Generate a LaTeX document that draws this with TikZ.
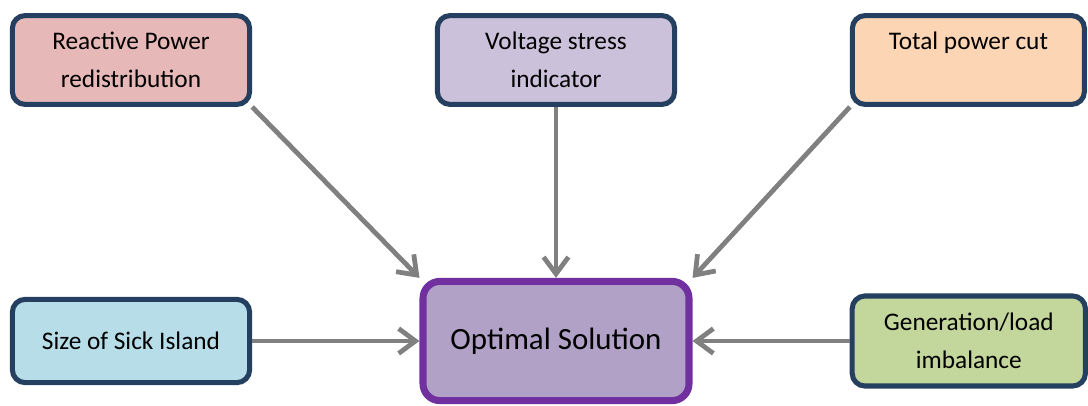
\documentclass[tikz,border=0pt]{standalone}
\usepackage{fontspec}
\setmainfont{Carlito}
\usepackage{xcolor}
\definecolor{critNavy}{HTML}{243F60}
\definecolor{critGray}{HTML}{808080}
\definecolor{critRose}{HTML}{E6B9B8}
\definecolor{critLilac}{HTML}{CCC1DA}
\definecolor{critPeach}{HTML}{FCD5B5}
\definecolor{critSky}{HTML}{B7DEE8}
\definecolor{critOlive}{HTML}{C3D69B}
\definecolor{optPurple}{HTML}{7030A0}
\definecolor{optFill}{HTML}{B2A1C7}
\usetikzlibrary{arrows.meta,positioning,shadows}

\begin{document}
\begin{tikzpicture}[>={Straight Barb[length=0.42cm,width=0.62cm]}]
  \tikzset{
    critbox/.style={
      draw=critNavy,
      line width=3.6pt,
      rounded corners=9pt,
      minimum width=5.93cm,
      minimum height=2.22cm,
      align=center,
      font=\fontsize{18}{27}\selectfont
    },
    optbox/.style={
      draw=optPurple,
      fill=optFill,
      line width=5pt,
      rounded corners=12pt,
      minimum width=6.65cm,
      minimum height=2.98cm,
      font=\fontsize{22}{26}\selectfont,
      drop shadow={shadow xshift=1.5pt,shadow yshift=-1.5pt,opacity=0.25}
    },
    flowarrow/.style={->, critGray, line width=3.4pt}
  }
  \path[use as bounding box] (0,0) rectangle (27.2,10.125);

  \node[critbox,fill=critRose] (reactive) at (3.275,8.625) {Reactive Power\\redistribution};
  \node[critbox,fill=critLilac] (voltage) at (13.9,8.625) {Voltage stress\\indicator};
  \node[critbox,fill=critPeach,minimum width=5.8cm] (powercut) at (24.21,8.625) {Total power cut\\\mbox{}};
  \node[critbox,fill=critSky,minimum height=2.08cm] (island) at (3.275,1.6) {Size of Sick Island};
  \node[critbox,fill=critOlive,minimum width=5.83cm,minimum height=2.25cm] (imbalance) at (24.22,1.6) {Generation/load\\imbalance};

  \node[optbox] (optimal) at (13.9,1.6) {Optimal Solution};

  \draw[flowarrow] (reactive.south east) -- (optimal.north west);
  \draw[flowarrow] (voltage) -- (optimal);
  \draw[flowarrow] (powercut.south west) -- (optimal.north east);
  \draw[flowarrow] (island) -- (optimal);
  \draw[flowarrow] (imbalance) -- (optimal);
\end{tikzpicture}
\end{document}
